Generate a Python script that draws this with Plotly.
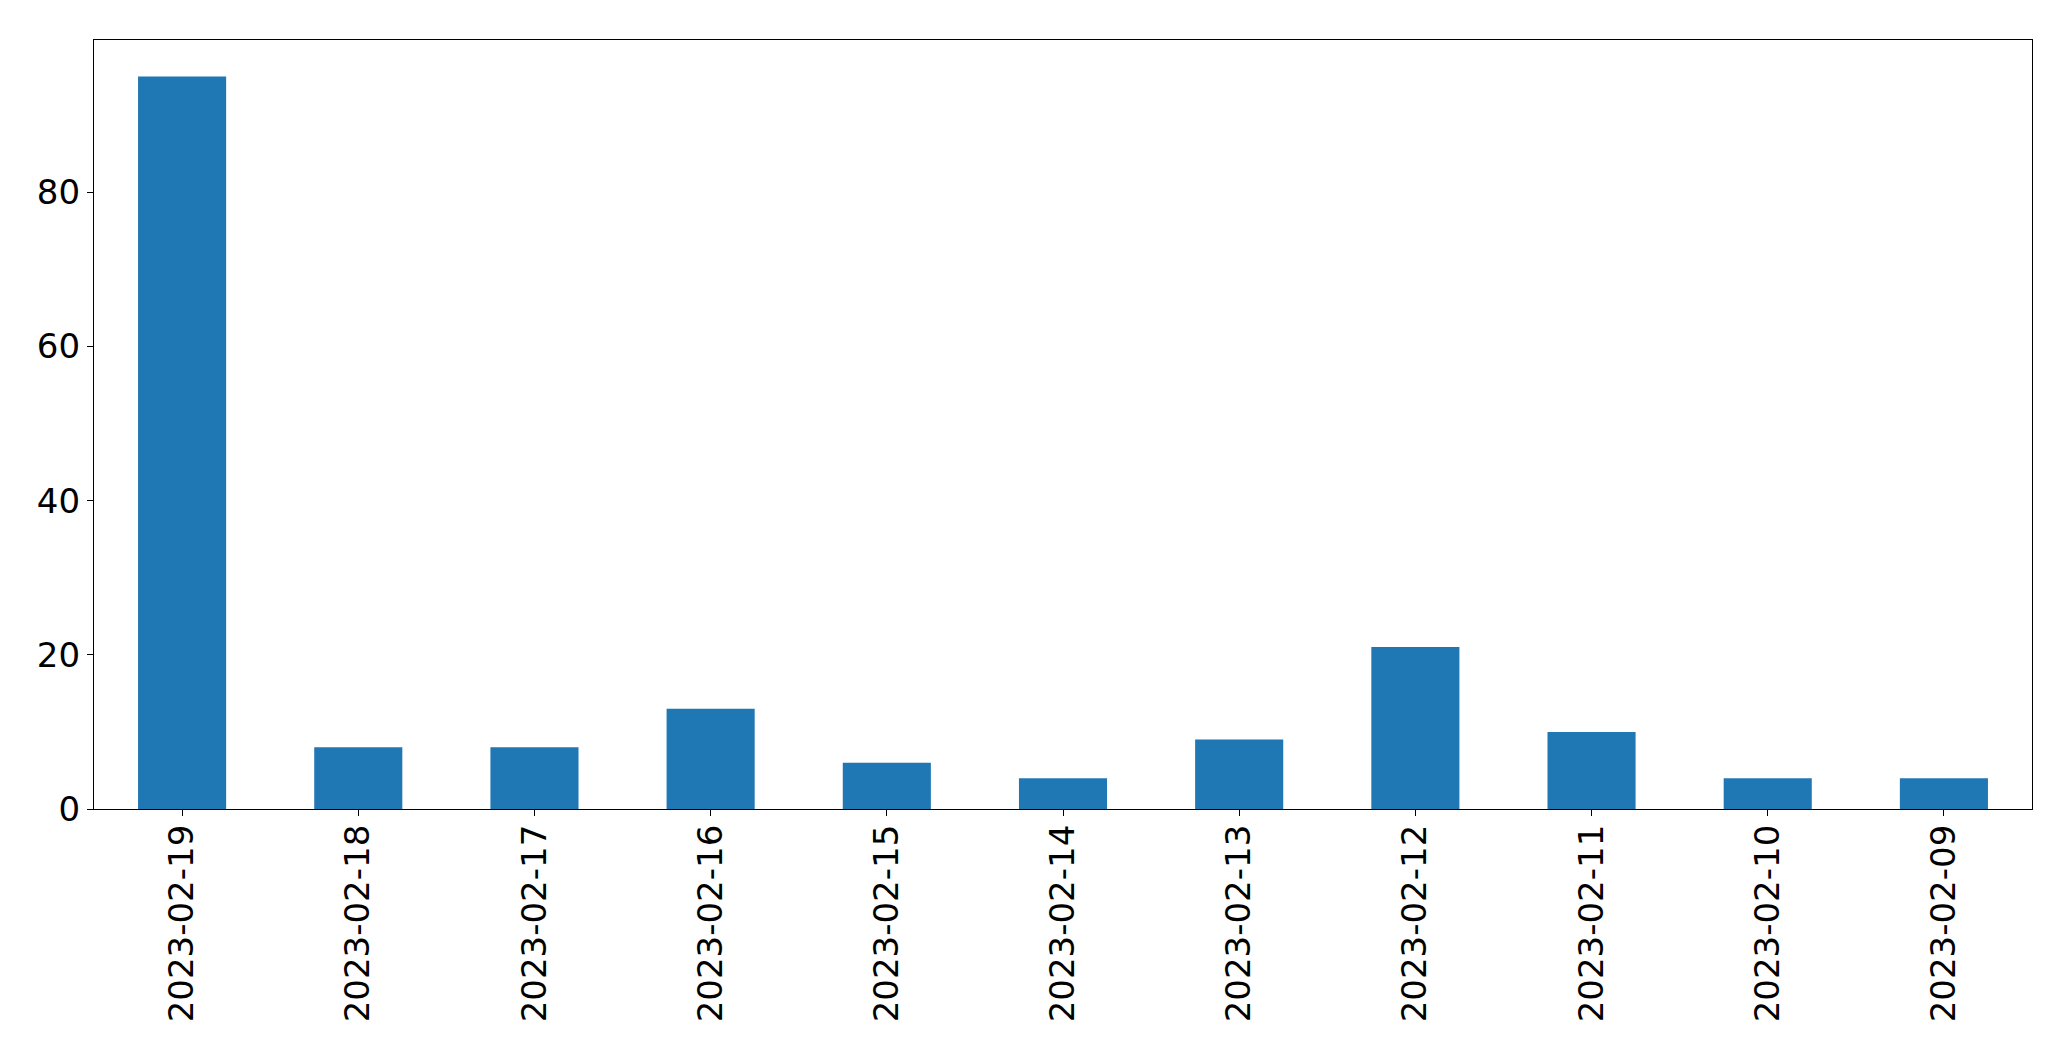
import plotly.graph_objects as go

dates = ["2023-02-19", "2023-02-18", "2023-02-17", "2023-02-16", "2023-02-15",
         "2023-02-14", "2023-02-13", "2023-02-12", "2023-02-11", "2023-02-10", "2023-02-09"]
counts = [95, 8, 8, 13, 6, 4, 9, 21, 10, 4, 4]
y_ticks = [0, 20, 40, 60, 80]

fig = go.Figure(go.Bar(x=dates, y=counts, marker=dict(color="#1f77b4", line=dict(width=0)), width=0.5))

fig.update_layout(
    width=2071, height=1061,
    margin=dict(l=86, r=47, t=32, b=260),
    paper_bgcolor="white", plot_bgcolor="white",
    font=dict(family="DejaVu Sans", size=34, color="black"),
    showlegend=False,
)
fig.update_xaxes(
    type="category", range=[-0.5, len(dates) - 0.5], tickangle=-90,
    showline=True, mirror=True, linecolor="black", linewidth=1.3,
    ticks="outside", ticklen=6, tickwidth=1.3, tickcolor="black",
    showgrid=False, zeroline=False, ticklabelstandoff=-5,
)
fig.update_yaxes(
    range=[0, 99.75], tickvals=y_ticks,
    showline=True, mirror=True, linecolor="black", linewidth=1.3,
    ticks="outside", ticklen=6, tickwidth=1.3, tickcolor="black",
    showgrid=False, zeroline=False,
)
fig.write_html("out.html")
